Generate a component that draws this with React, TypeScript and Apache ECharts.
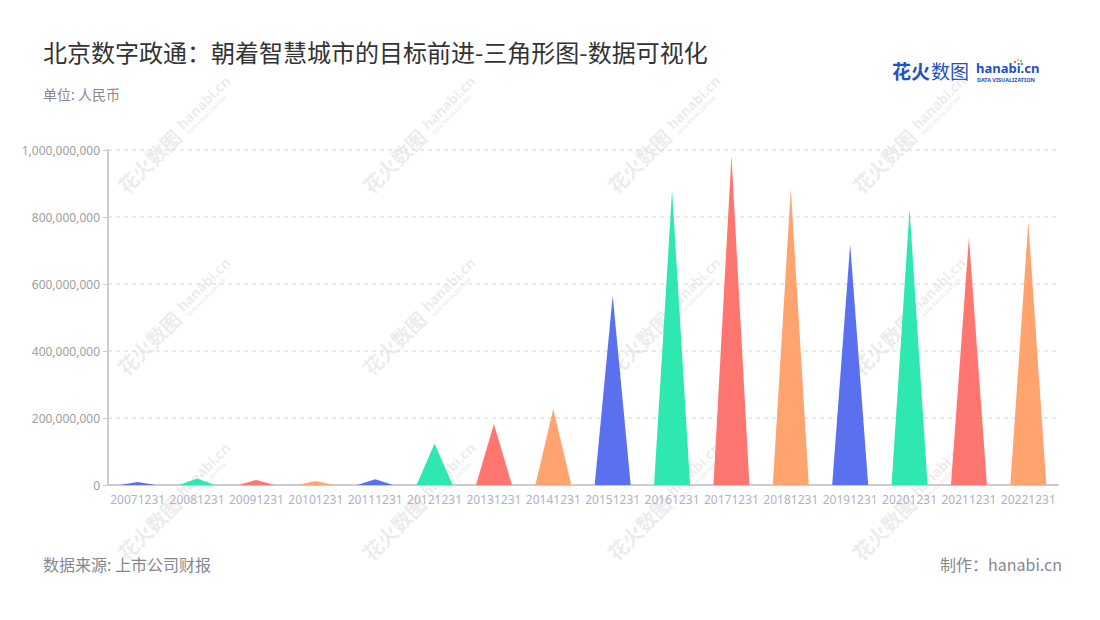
import React, { useEffect, useRef } from "react";
import * as echarts from "echarts";

const categories = [
  "20071231", "20081231", "20091231", "20101231", "20111231", "20121231",
  "20131231", "20141231", "20151231", "20161231", "20171231", "20181231",
  "20191231", "20201231", "20211231", "20221231",
];
const values = [
  9000000, 19000000, 15000000, 12000000, 17000000, 124000000,
  182000000, 227000000, 566000000, 880000000, 983000000, 883000000,
  719000000, 823000000, 739000000, 786000000,
];
const palette = ["#5b70ef", "#2ee7b1", "#ff7670", "#ffa36f"];
const yTicks = [0, 200000000, 400000000, 600000000, 800000000, 1000000000];

const titleText = "北京数字政通：朝着智慧城市的目标前进-三角形图-数据可视化";
const unitText = "单位: 人民币";
const sourceText = "数据来源: 上市公司财报";
const makerText = "制作：hanabi.cn";

function watermark(x: number, y: number) {
  const c = "rgba(180,180,180,0.26)";
  return {
    type: "group",
    x,
    y,
    rotation: Math.PI / 4,
    z: 100,
    silent: true,
    children: [
      {
        type: "text",
        x: -4,
        y: 0,
        style: {
          text: "花火数图",
          fill: c,
          font: "bold 20px 'Noto Sans CJK SC', sans-serif",
          align: "right",
          verticalAlign: "middle",
        },
      },
      {
        type: "text",
        x: 2,
        y: -3,
        style: {
          text: "hanabi.cn",
          fill: c,
          font: "bold 14px 'Noto Sans', sans-serif",
          align: "left",
          verticalAlign: "middle",
        },
      },
      {
        type: "text",
        x: 3,
        y: 8,
        style: {
          text: "DATA VISUALIZATION",
          fill: c,
          font: "bold 5px 'Noto Sans', sans-serif",
          align: "left",
          verticalAlign: "middle",
        },
      },
    ],
  };
}

export default function App() {
  const ref = useRef<HTMLDivElement>(null);
  useEffect(() => {
    if (!ref.current) return;
    const chart = echarts.init(ref.current, null, { renderer: "svg" });
    const wms: any[] = [];
    const xs = [180, 425, 670, 915];
    const ys = [130, 312, 497];
    for (const yy of ys) for (const xx of xs) wms.push(watermark(xx, yy));

    const option: any = {
      animation: false,
      backgroundColor: "#ffffff",
      grid: { left: 108, right: 42, top: 150, bottom: 135, containLabel: false },
      xAxis: {
        type: "category",
        data: categories,
        axisLine: { lineStyle: { color: "#cccccc", width: 2 } },
        axisTick: { alignWithLabel: true, lineStyle: { color: "#bbbbbb" }, length: 5 },
        axisLabel: {
          color: "#afb2c4",
          fontSize: 12,
          fontFamily: "'Noto Sans', sans-serif",
          margin: 8,
          interval: 0,
        },
      },
      yAxis: {
        type: "value",
        min: 0,
        max: 1000000000,
        interval: 200000000,
        axisLine: { show: true, lineStyle: { color: "#cccccc", width: 2 } },
        axisTick: { show: true, lineStyle: { color: "#cccccc" }, length: 5 },
        axisLabel: {
          color: "#a0a0a0",
          fontSize: 12,
          fontFamily: "'Noto Sans', sans-serif",
          margin: 8,
          formatter: (v: number) => (yTicks.includes(v) ? v.toLocaleString("en-US") : ""),
        },
        splitLine: { lineStyle: { color: "#e3e3e3", type: [4, 4], width: 1.5 } },
      },
      series: [
        {
          type: "pictorialBar",
          symbol: "triangle",
          symbolSize: [36, "100%"],
          data: values.map((v, i) => ({
            value: v,
            itemStyle: { color: palette[i % 4] },
          })),
        },
      ],
      graphic: [
        {
          type: "text",
          left: 43,
          top: 39,
          style: {
            text: titleText,
            fill: "#333333",
            font: "24px 'Noto Sans CJK SC', sans-serif",
          },
        },
        {
          type: "text",
          left: 43,
          top: 87,
          style: {
            text: unitText,
            fill: "#8a8a8a",
            font: "14px 'Noto Sans CJK SC', sans-serif",
          },
        },
        {
          type: "text",
          left: 43,
          top: 556,
          style: {
            text: sourceText,
            fill: "#86888f",
            font: "16px 'Noto Sans CJK SC', sans-serif",
          },
        },
        {
          type: "text",
          right: 38,
          top: 556,
          style: {
            text: makerText,
            fill: "#86888f",
            font: "16px 'Noto Sans CJK SC', sans-serif",
          },
        },
        {
          type: "text",
          left: 892,
          top: 61,
          style: {
            text: "花火",
            fill: "#2150c8",
            font: "bold 19px 'Noto Sans CJK SC', sans-serif",
          },
        },
        {
          type: "text",
          left: 931,
          top: 61,
          style: {
            text: "数图",
            fill: "#2150c8",
            font: "19px 'Noto Sans CJK SC', sans-serif",
          },
        },
        {
          type: "text",
          left: 976,
          top: 61,
          style: {
            text: "hanabi.cn",
            fill: "#2150c8",
            font: "bold 13px 'Noto Sans', sans-serif",
          },
        },
        {
          type: "text",
          left: 977,
          top: 77,
          style: {
            text: "DATA VISUALIZATION",
            fill: "#2150c8",
            font: "bold 5.5px 'Noto Sans', sans-serif",
          },
        },
        { type: "circle", shape: { cx: 1015, cy: 62, r: 1.2 }, style: { fill: "#ff5a5a" } },
        { type: "circle", shape: { cx: 1018, cy: 60, r: 1.2 }, style: { fill: "#ffb13d" } },
        { type: "circle", shape: { cx: 1021, cy: 61, r: 1.2 }, style: { fill: "#3dd6a8" } },
        { type: "circle", shape: { cx: 1022, cy: 64, r: 1.2 }, style: { fill: "#4a8df0" } },
        ...wms,
      ],
    };
    chart.setOption(option);
    return () => chart.dispose();
  }, []);
  return (
    <div
      ref={ref}
      style={{ position: "fixed", left: 0, top: 0, width: 1100, height: 620, background: "#fff" }}
    />
  );
}
